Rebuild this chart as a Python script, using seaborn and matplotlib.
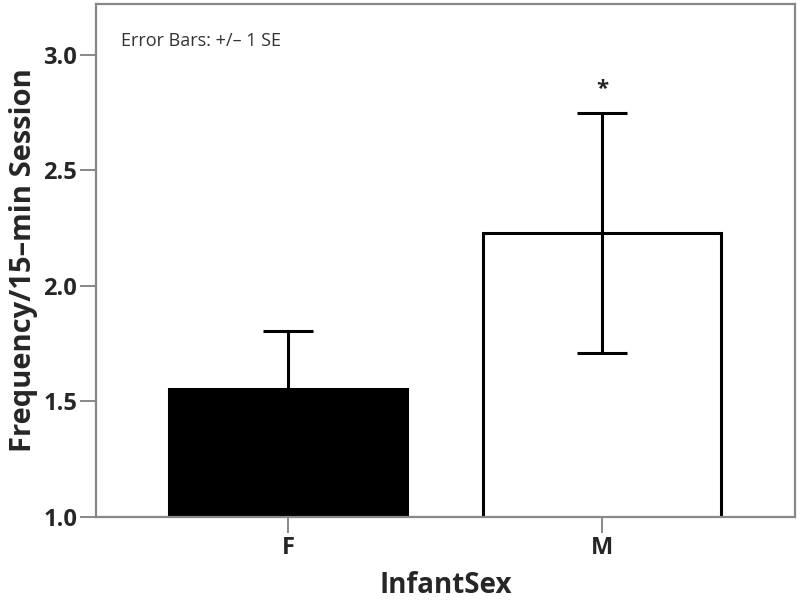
import numpy as np
import pandas as pd
import seaborn as sns
import matplotlib.pyplot as plt

sex = ['F', 'M']
freq_mean = [1.555, 2.23]
freq_se = [0.25, 0.52]
bar_colors = ['black', 'white']

df = pd.DataFrame({'InfantSex': sex, 'freq': freq_mean})

sns.set_style('white')
plt.rcParams['font.family'] = ['Open Sans', 'DejaVu Sans']

fig = plt.figure(figsize=(8, 6), dpi=100)
ax = fig.add_axes([0.12, 0.1383, 0.874, 0.855])

sns.barplot(data=df, x='InfantSex', y='freq', hue='InfantSex', palette=bar_colors,
            legend=False, errorbar=None, width=0.76, edgecolor='black',
            linewidth=2.2, ax=ax, zorder=2)
ax.errorbar(x=range(len(sex)), y=freq_mean, yerr=freq_se, fmt='none',
            ecolor='black', elinewidth=2.2, capsize=18, capthick=2.2, zorder=4)

ax.text(1.0, freq_mean[1] + freq_se[1] + 0.10, '*', ha='center', va='center',
        fontsize=16, fontweight='bold')
ax.text(0.036, 0.928, 'Error Bars: +/\u2013 1 SE', transform=ax.transAxes,
        fontsize=13, color='#333333', va='center')

ax.set_xlim(-0.611, 1.615)
ax.set_ylim(1.0, 3.22)
ax.set_yticks([1.0, 1.5, 2.0, 2.5, 3.0])
ax.set_yticklabels(['1.0', '1.5', '2.0', '2.5', '3.0'])

for s in ax.spines.values():
    s.set_visible(True)
    s.set_color('#888888')
    s.set_linewidth(1.6)
ax.tick_params(axis='both', direction='out', length=11.5, width=1.4, color='#888888',
               labelsize=17, pad=2, left=True, bottom=True)
for lab in ax.get_xticklabels() + ax.get_yticklabels():
    lab.set_fontweight('bold')

ax.set_xlabel('InfantSex', fontsize=20, fontweight='bold', labelpad=8)
ax.set_ylabel('Frequency/15\u2013min Session', fontsize=21, fontweight='bold', labelpad=4)

plt.savefig('out.png', dpi=100)
